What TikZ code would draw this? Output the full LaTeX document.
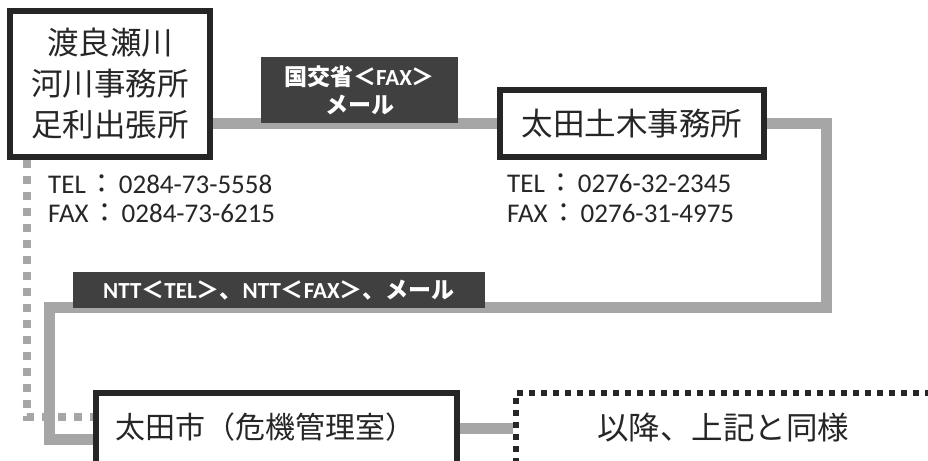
\documentclass[tikz,border=0pt]{standalone}
\usepackage{fontspec}
\usetikzlibrary{backgrounds,calc}
\setmainfont{Noto Sans CJK JP}
\newfontfamily\cjk{Noto Sans CJK JP}
\newfontfamily\lat{Carlito}
\newcommand\latn[1]{{\lat #1}}
\definecolor{ink}{HTML}{262626}
\definecolor{conn}{HTML}{A6A6A6}
\definecolor{tag}{HTML}{404040}
\tikzset{
  office/.style={draw=ink, line width=5.5pt, fill=white, text=ink, inner sep=0pt,
    font=\cjk\fontsize{31.5}{41}\selectfont, align=center},
  boxtext/.style={text=ink, inner sep=0pt, font=\cjk\fontsize{31.5}{41}\selectfont},
  tagbox/.style={fill=tag, text=white, inner sep=0pt,
    font=\cjk\bfseries\fontsize{23}{28}\selectfont, align=center},
  link/.style={draw=conn, line width=11pt, line join=miter},
  dotlink/.style={draw=conn, line width=8pt, dash pattern=on 8pt off 8pt},
  later/.style={draw=ink, line width=6pt, dash pattern=on 6pt off 6pt, fill=white},
  info/.style={anchor=west, inner sep=0pt, text=ink, font=\lat\fontsize{27}{30}\selectfont}
}
\begin{document}
\begin{tikzpicture}[x=1pt,y=-1pt]
\useasboundingbox (0,0) rectangle (928,460);
\clip (0,0) rectangle (928,460);
% offices
\node[office, minimum width=200pt, minimum height=146pt] (b1) at (110,84) {渡良瀬川\\河川事務所\\足利出張所};
\node[office, minimum width=264pt, minimum height=67pt] (b2) at (632,123.5) {太田土木事務所};
\node[office, minimum width=361pt, minimum height=88pt] (b3) at (276.5,437) {};
\node[boxtext, font=\cjk\fontsize{30}{36}\selectfont] (t3) at (265,427) {太田市（危機管理室）};
\node[later, minimum width=434pt, minimum height=87pt] (b4) at (733,436.5) {};
\node[boxtext] (t4) at (723,428) {以降、上記と同様};
% contact info
\node[info] (i1) at (48,184) {TEL\hspace{3pt}{\cjk ：}\hspace{3pt}0284-73-5558};
\node[info] (i2) at (48,213) {FAX\hspace{3pt}{\cjk ：}\hspace{3pt}0284-73-6215};
\node[info] (i3) at (507,183) {TEL\hspace{3pt}{\cjk ：}\hspace{3pt}0276-32-2345};
\node[info] (i4) at (507,213) {FAX\hspace{3pt}{\cjk ：}\hspace{3pt}0276-31-4975};
% tags
\node[tagbox, minimum width=197pt, minimum height=66pt] (g1) at (359.5,90) {国交省＜\latn{FAX}＞\\メール};
\node[tagbox, minimum width=412pt, minimum height=36pt] (g2) at (279,290) {\latn{NTT}＜\latn{TEL}＞、\latn{NTT}＜\latn{FAX}＞、メール};
% connectors
\begin{scope}[on background layer]
  \coordinate (r1) at (826,307);
  \coordinate (l1) at (49,439);
  \coordinate (d1) at (27,160);
  \coordinate (d2) at (27,417);
  \draw[dotlink] (d1) -- (d2) -- (b3.west |- d2);
  \draw[link] (b1.east |- b2.west) -- (b2.west);
  \draw[link] (b2.east) -| (r1) -- (r1 -| l1) |- (b3.west |- l1);
  \draw[link] (b3.east |- t4) -- (b4.west |- t4);
\end{scope}
\end{tikzpicture}
\end{document}
